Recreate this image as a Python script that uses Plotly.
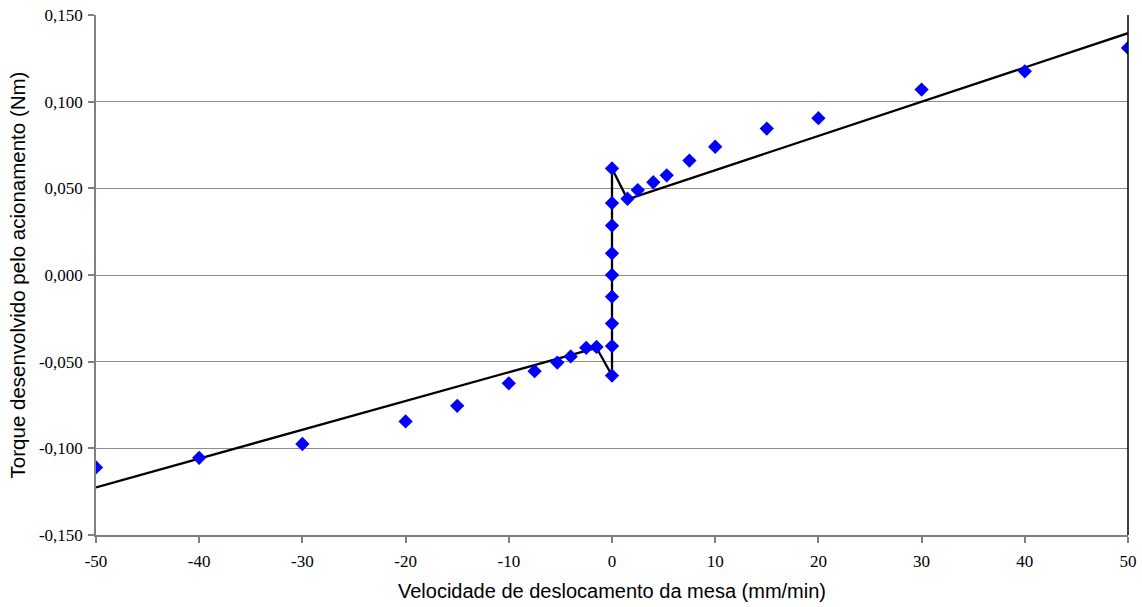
import plotly.graph_objects as go

# Measured points (velocity mm/min, torque Nm)
vel = [-50, -40, -30, -20, -15, -10, -7.5, -5.3, -4, -2.5, -1.5,
       0, 0, 0, 0, 0, 0, 0, 0, 0,
       1.5, 2.5, 4, 5.3, 7.5, 10, 15, 20, 30, 40, 50]
torque = [-0.111, -0.1055, -0.0975, -0.0845, -0.0755, -0.0625, -0.0555, -0.0505, -0.047, -0.042, -0.0415,
          -0.058, -0.041, -0.028, -0.0125, 0.0, 0.0125, 0.0285, 0.0415, 0.0615,
          0.044, 0.049, 0.0535, 0.0575, 0.066, 0.074, 0.0845, 0.0905, 0.107, 0.1175, 0.131]

# Model line (piecewise)
model_vel = [-50, -1.5, 0, 0, 1.5, 50]
model_torque = [-0.1225, -0.042, -0.058, 0.0615, 0.0437, 0.1395]

xticks = [-50, -40, -30, -20, -10, 0, 10, 20, 30, 40, 50]
xticktext = ["-50", "-40", "-30", "-20", "-10", "0", "10", "20", "30", "40", "50"]
yticks = [-0.15, -0.10, -0.05, 0.0, 0.05, 0.10, 0.15]
yticktext = ["-0,150", "-0,100", "-0,050", "0,000", "0,050", "0,100", "0,150"]

fig = go.Figure()
fig.add_trace(go.Scatter(x=model_vel, y=model_torque, mode="lines",
                         line=dict(color="black", width=2.3), showlegend=False,
                         hoverinfo="skip"))
fig.add_trace(go.Scatter(x=vel, y=torque, mode="markers",
                         marker=dict(symbol="diamond", size=11, color="#0000FF",
                                     line=dict(width=0)),
                         showlegend=False))

fig.update_layout(
    width=1142, height=607,
    margin=dict(l=96, r=14, t=15, b=72),
    paper_bgcolor="white", plot_bgcolor="white",
    xaxis=dict(range=[-50, 50], tickvals=xticks, ticktext=xticktext,
               showgrid=False, zeroline=False, showline=True, automargin=False,
               linecolor="#808080", linewidth=1.5,
               ticks="outside", ticklen=6, tickcolor="#808080", tickwidth=1.5,
               ticklabelstandoff=4,
               tickfont=dict(family="Liberation Serif", size=17, color="black"),
               title=dict(text="Velocidade de deslocamento da mesa (mm/min)",
                          font=dict(family="Liberation Sans", size=20, color="black"),
                          standoff=14)),
    yaxis=dict(range=[-0.15, 0.15], tickvals=yticks, ticktext=yticktext,
               showgrid=True, gridcolor="#8c8c8c", gridwidth=1,
               zeroline=False, showline=True, automargin=False,
               linecolor="#808080", linewidth=1.5,
               ticks="outside", ticklen=6, tickcolor="#808080", tickwidth=1.5,
               ticklabelstandoff=2,
               tickfont=dict(family="Liberation Serif", size=17, color="black"),
               title=dict(text="Torque desenvolvido pelo acionamento (Nm)",
                          font=dict(family="Liberation Sans", size=20.5, color="black"),
                          standoff=8)),
    shapes=[dict(type="line", xref="x domain", yref="y domain",
                 x0=1, x1=1, y0=0, y1=1, line=dict(color="black", width=1.5))],
)

fig.write_html("out.html", config={"displayModeBar": False},
               post_script="document.body.style.margin='0';document.body.style.overflow='hidden';")
